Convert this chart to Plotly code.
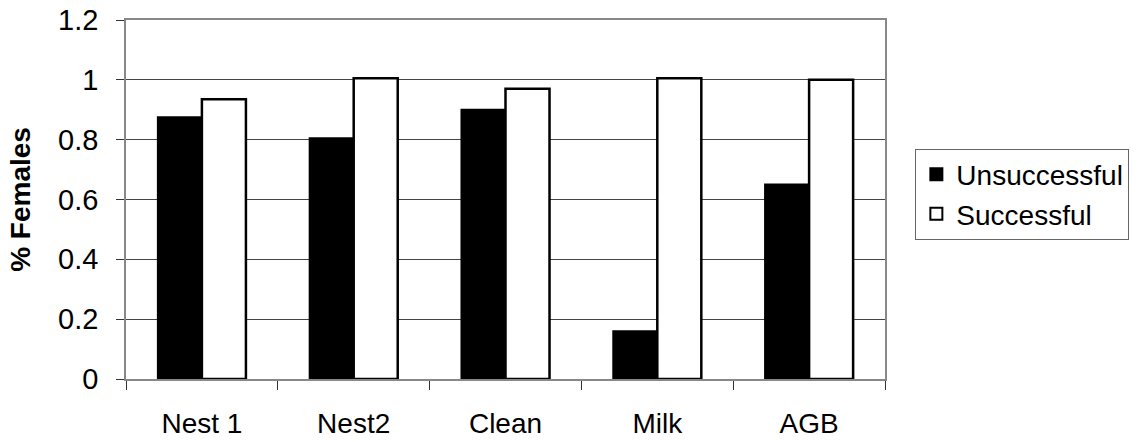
import plotly.graph_objects as go

categories = ["Nest 1", "Nest2", "Clean", "Milk", "AGB"]
unsuccessful = [0.875, 0.805, 0.90, 0.16, 0.65]
successful = [0.935, 1.005, 0.97, 1.005, 1.0]
y_ticks = [0, 0.2, 0.4, 0.6, 0.8, 1, 1.2]
y_tick_labels = ["0", "0.2", "0.4", "0.6", "0.8", "1", "1.2"]

font_family = "Liberation Sans, Arial, Helvetica, sans-serif"

fig = go.Figure()
fig.add_trace(go.Bar(
    x=categories, y=unsuccessful, name="Unsuccessful",
    marker=dict(color="black", line=dict(color="black", width=2)),
))
fig.add_trace(go.Bar(
    x=categories, y=successful, name="Successful",
    marker=dict(color="white", line=dict(color="black", width=2.5)),
))

fig.update_layout(
    width=1141, height=442,
    margin=dict(l=126, r=256, t=20, b=63, autoexpand=False),
    paper_bgcolor="white", plot_bgcolor="white",
    barmode="group", bargap=0.42, bargroupgap=0,
    font=dict(family=font_family, size=28, color="black"),
    legend=dict(
        x=1.04, y=0.515, xanchor="left", yanchor="middle",
        bordercolor="#666666", borderwidth=1,
        font=dict(size=28), itemsizing="constant", itemwidth=30,
        tracegroupgap=0,
    ),
    showlegend=True,
)
fig.update_xaxes(
    showgrid=False, tickson="boundaries", ticks="outside", ticklen=9,
    tickcolor="#333333", showline=True, linecolor="#888888", linewidth=1.5,
    mirror=True, ticklabelstandoff=19, tickfont=dict(size=28),
    automargin=False, ticklabeloverflow="allow",
)
fig.update_yaxes(
    range=[0, 1.2], tickvals=y_ticks, ticktext=y_tick_labels,
    showgrid=True, gridcolor="#444444", gridwidth=1,
    ticks="outside", ticklen=8, tickcolor="#333333",
    showline=True, linecolor="#888888", linewidth=1.5, mirror=True,
    zeroline=False, tickfont=dict(size=29), automargin=False,
    ticklabelstandoff=12, ticklabeloverflow="allow",
    title=dict(text="<b>% Females</b>", font=dict(size=28), standoff=19),
)

fig.write_html("out.html", config={"displayModeBar": False},
               post_script="document.body.style.margin='0';")
